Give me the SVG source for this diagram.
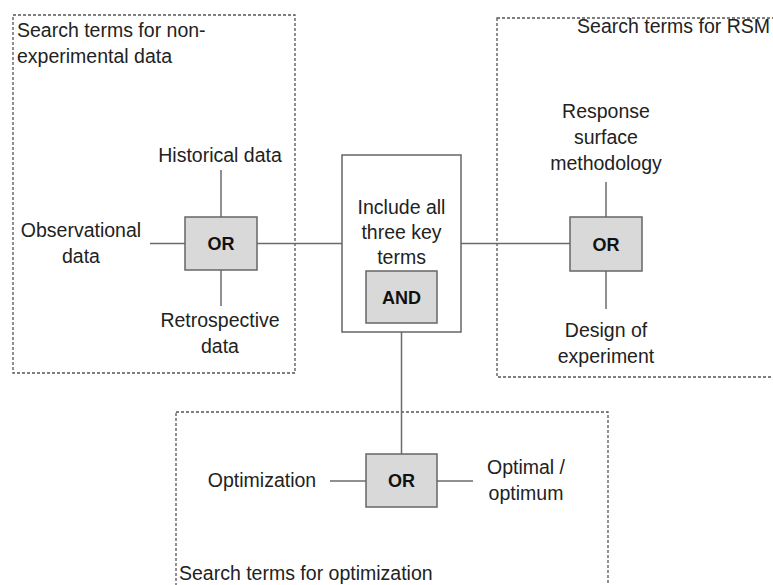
<svg xmlns="http://www.w3.org/2000/svg" width="773" height="585" viewBox="0 0 773 585">
  <style>
    text { font-family: "Liberation Sans", Arial, sans-serif; font-size: 19.5px; fill: #222; }
    .c { text-anchor: middle; }
    .op { font-weight: bold; font-size: 18px; text-anchor: middle; fill: #111; }
    .group { fill: none; stroke: #555; stroke-width: 1.3; stroke-dasharray: 3 2; }
    .gate { fill: #d9d9d9; stroke: #666; stroke-width: 1.5; }
    .frame { fill: #fff; stroke: #666; stroke-width: 1.5; }
    .wire { stroke: #6b6b6b; stroke-width: 1.5; fill: none; }
  </style>
  <rect width="773" height="585" fill="#fff"/>

  <!-- dashed groupings of search terms -->
  <g id="group-nonexperimental">
    <rect class="group" x="13" y="15" width="282" height="358"/>
    <text x="17" y="37">Search terms for non-</text>
    <text x="17" y="63">experimental data</text>
  </g>
  <g id="group-rsm">
    <rect class="group" x="497" y="18" width="280" height="359"/>
    <text x="770" y="33" text-anchor="end">Search terms for RSM</text>
  </g>
  <g id="group-optimization">
    <rect class="group" x="176" y="412" width="432" height="190"/>
    <text x="179" y="580">Search terms for optimization</text>
  </g>

  <!-- connectors -->
  <g id="connectors">
    <line class="wire" x1="221" y1="170" x2="221" y2="217"/>
    <line class="wire" x1="150" y1="243.5" x2="185" y2="243.5"/>
    <line class="wire" x1="221" y1="270" x2="221" y2="306"/>
    <line class="wire" x1="257" y1="243.5" x2="342" y2="243.5"/>
    <line class="wire" x1="461" y1="243.5" x2="570" y2="243.5"/>
    <line class="wire" x1="606" y1="182" x2="606" y2="217"/>
    <line class="wire" x1="606" y1="271" x2="606" y2="309"/>
    <line class="wire" x1="401.5" y1="332" x2="401.5" y2="454"/>
    <line class="wire" x1="330" y1="481" x2="366" y2="481"/>
    <line class="wire" x1="437" y1="481" x2="473" y2="481"/>
  </g>

  <!-- term labels -->
  <g id="term-historical"><text class="c" x="220" y="162">Historical data</text></g>
  <g id="term-observational">
    <text class="c" x="81" y="237">Observational</text>
    <text class="c" x="81" y="263">data</text>
  </g>
  <g id="term-retrospective">
    <text class="c" x="220" y="327">Retrospective</text>
    <text class="c" x="220" y="353">data</text>
  </g>
  <g id="term-rsm">
    <text class="c" x="606" y="118">Response</text>
    <text class="c" x="606" y="144">surface</text>
    <text class="c" x="606" y="170">methodology</text>
  </g>
  <g id="term-doe">
    <text class="c" x="606" y="337">Design of</text>
    <text class="c" x="606" y="363">experiment</text>
  </g>
  <g id="term-optimization"><text class="c" x="262" y="487">Optimization</text></g>
  <g id="term-optimal">
    <text class="c" x="526" y="474">Optimal /</text>
    <text class="c" x="526" y="500">optimum</text>
  </g>

  <!-- logic operators -->
  <g id="or-nonexperimental">
    <rect class="gate" x="185" y="217" width="72" height="53"/>
    <text class="op" x="221" y="250">OR</text>
  </g>
  <g id="and-all">
    <rect class="frame" x="342" y="155" width="119" height="177"/>
    <text class="c" x="401.5" y="214">Include all</text>
    <text class="c" x="401.5" y="239">three key</text>
    <text class="c" x="401.5" y="264">terms</text>
    <rect class="gate" x="366" y="271" width="71" height="52"/>
    <text class="op" x="401.5" y="303.5">AND</text>
  </g>
  <g id="or-rsm">
    <rect class="gate" x="570" y="217" width="72" height="54"/>
    <text class="op" x="606" y="250.5">OR</text>
  </g>
  <g id="or-optimization">
    <rect class="gate" x="366" y="454" width="71" height="53"/>
    <text class="op" x="401.5" y="487">OR</text>
  </g>
</svg>
